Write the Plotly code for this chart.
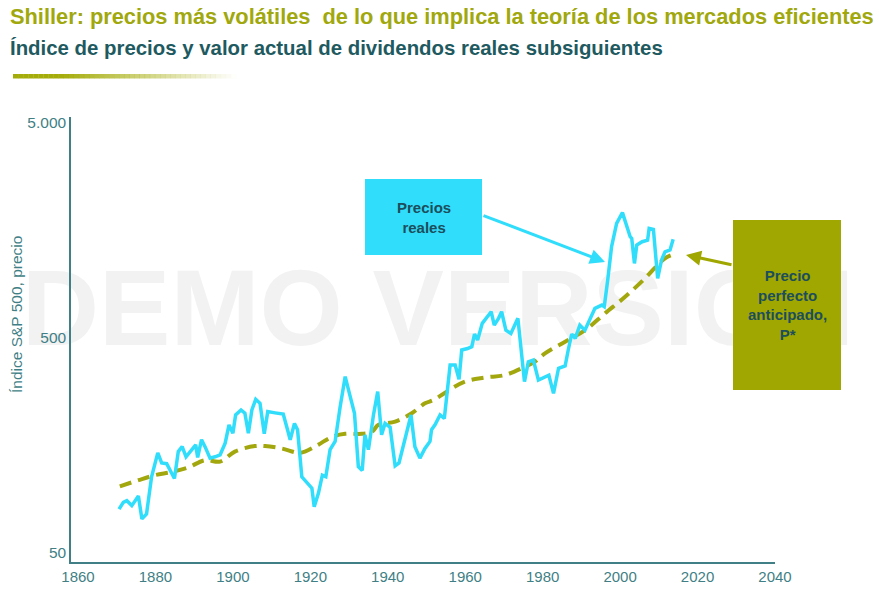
import plotly.graph_objects as go

# ---------------- data ----------------
real_years = [1870.6, 1871.7, 1872.6, 1873.9, 1875.6, 1876.5, 1877.7, 1879.0, 1880.6, 1881.6,
              1882.9, 1883.8, 1884.9, 1885.9, 1886.9, 1887.9, 1889.4, 1890.4, 1890.9, 1891.9,
              1892.8, 1894.1, 1895.4, 1896.7, 1898.0, 1899.0, 1900.0, 1900.7, 1902.1, 1903.1,
              1904.0, 1904.9, 1905.9, 1907.0, 1908.1, 1909.0, 1910.9, 1913.0, 1913.9, 1914.8,
              1915.9, 1916.7, 1917.8, 1919.1, 1920.4, 1921.0, 1922.1, 1923.1, 1924.0, 1925.1,
              1926.4, 1927.7, 1929.0, 1930.2, 1931.4, 1932.4, 1933.4, 1934.1, 1935.0, 1936.3,
              1937.4, 1938.4, 1939.3, 1940.6, 1941.9, 1942.9, 1944.5, 1946.0, 1947.0, 1948.3,
              1949.6, 1950.9, 1951.3, 1952.2, 1953.5, 1954.6, 1956.1, 1957.4, 1958.4, 1959.1,
              1960.6, 1961.7, 1962.4, 1963.2, 1964.4, 1965.6, 1966.7, 1967.5, 1968.6, 1969.4,
              1970.5, 1971.8, 1973.6, 1975.3, 1976.3, 1977.6, 1978.9, 1981.6, 1982.8, 1984.1,
              1985.8, 1986.6, 1987.5, 1988.4, 1989.6, 1990.9, 1992.2, 1993.5, 1995.3, 1995.9,
              1996.8, 1997.8, 1999.1, 2000.6, 2002.6, 2003.0, 2003.7, 2004.3, 2005.7, 2007.1,
              2007.5, 2008.6, 2009.7, 2010.7, 2011.6, 2012.9, 2013.7]
real_prices = [80, 86, 87.5, 83, 92, 72, 76, 113, 146, 131,
               130, 122, 111, 148, 156, 140, 151, 159, 139, 168,
               156, 138, 140, 143, 162, 197, 180, 219, 231, 223,
               180, 231, 259, 248, 179, 227, 224, 221, 193, 168,
               200, 187, 113, 107, 100, 82, 95, 115, 113, 151,
               165, 239, 330, 271, 223, 126, 121, 177, 151, 219,
               281, 177, 200, 192, 127, 131, 168, 219, 156, 138,
               153, 165, 187, 197, 219, 211, 374, 374, 321, 439,
               446, 455, 521, 489, 584, 627, 661, 573, 616, 661,
               543, 524, 616, 313, 387, 394, 318, 335, 276, 361,
               370, 439, 521, 497, 573, 543, 616, 686, 710, 698,
               929, 1327, 1702, 1910, 1476, 1449, 1109, 1350, 1399, 1422,
               1612, 1596, 944, 1151, 1256, 1280, 1435]

pstar_years = [1870.8, 1875.6, 1879.9, 1884.2, 1888.5, 1892.8, 1896.7, 1900.5, 1905.7, 1908.3,
               1912.6, 1916.9, 1918.6, 1922.0, 1925.5, 1929.0, 1933.3, 1935.9, 1937.6, 1941.9,
               1946.2, 1949.6, 1951.8, 1954.8, 1959.9, 1965.1, 1970.3, 1975.4, 1978.0, 1980.6,
               1985.8, 1991.0, 1996.1, 2001.3, 2006.4, 2011.6, 2014.7]
pstar_values = [102, 109, 115, 119, 125, 135, 133, 148, 157, 157,
                153, 146, 148, 159, 173, 179, 179, 183, 197, 204,
                223, 248, 257, 278, 313, 327, 336, 367, 387, 423,
                480, 543, 650, 776, 944, 1172, 1236]

x_ticks = [1860, 1880, 1900, 1920, 1940, 1960, 1980, 2000, 2020, 2040]
y_ticks = [50, 500, 5000]
y_ticktext = ["50", "500", "5.000"]

title_text = "Shiller: precios más volátiles&nbsp; de lo que implica la teoría de los mercados eficientes"
subtitle_text = "Índice de precios y valor actual de dividendos reales subsiguientes"
y_title = "Índice S&P 500, precio"
label_real = "Precios<br>reales"
label_pstar = "Precio<br>perfecto<br>anticipado,<br>P*"

# ---------------- styling ----------------
W, H = 879, 592
L, R, T, B = 71, 775, 117, 562
PW, PH = R - L, B - T

def px(p):
    return (p - L) / PW

def py(p):
    return (B - p) / PH

CYAN = "#30DDFB"
OLIVE = "#A0A700"
TEAL = "#3F7F85"
DARK = "#1C4E5C"
FONT = "Liberation Sans, Arial, sans-serif"

fig = go.Figure()
fig.add_trace(go.Scatter(x=pstar_years, y=pstar_values, mode="lines",
                         line=dict(color="#A3A70E", width=4, dash="12px,7px", shape="spline"),
                         hoverinfo="skip", showlegend=False))
fig.add_trace(go.Scatter(x=real_years, y=real_prices, mode="lines",
                         line=dict(color=CYAN, width=3.5),
                         hoverinfo="skip", showlegend=False))

shapes = []
# watermark behind everything
shapes.append(dict(type="rect", xref="paper", yref="paper", layer="below",
                   x0=px(10), x1=px(866), y0=py(350), y1=py(245),
                   line=dict(width=0), fillcolor="rgba(0,0,0,0)",
                   label=dict(text="DEMO VERSION", textposition="middle center",
                              font=dict(family=FONT, size=107, color="#F2F2F2", weight="bold"))))
# boxes
shapes.append(dict(type="rect", xref="paper", yref="paper", layer="above",
                   x0=px(365), x1=px(482), y0=py(255), y1=py(179),
                   line=dict(width=0), fillcolor=CYAN))
shapes.append(dict(type="rect", xref="paper", yref="paper", layer="above",
                   x0=px(733), x1=px(841), y0=py(390), y1=py(220),
                   line=dict(width=0), fillcolor=OLIVE))
# gradient bar under the title
n = 44
x_start, x_end, y0b, y1b = 13, 236, 74, 78.5
step = (x_end - x_start) / n
for i in range(n):
    a = x_start + i * step
    mid = a + step / 2
    op = 1.0 if mid < 60 else max(0.0, 1 - (mid - 60) / (x_end - 60))
    shapes.append(dict(type="rect", xref="paper", yref="paper", layer="above",
                       x0=px(a), x1=px(a + step + 0.3), y0=py(y1b), y1=py(y0b),
                       line=dict(width=0), fillcolor="#A4AC0A", opacity=op))

annotations = [
    dict(text=title_text, xref="paper", yref="paper", x=px(8), y=py(17),
         xanchor="left", yanchor="middle", showarrow=False,
         font=dict(family=FONT, size=21.8, color="#A0A80E", weight="bold")),
    dict(text=subtitle_text, xref="paper", yref="paper", x=px(8), y=py(48),
         xanchor="left", yanchor="middle", showarrow=False,
         font=dict(family=FONT, size=20.4, color="#1E5A60", weight="bold")),
    dict(text=y_title, xref="paper", yref="paper", x=px(16), y=py(315),
         xanchor="center", yanchor="middle", showarrow=False, textangle=-90,
         font=dict(family=FONT, size=15.5, color=TEAL)),
    dict(text=label_real, xref="paper", yref="paper", x=px(423.5), y=py(217.5),
         xanchor="center", yanchor="middle", showarrow=False,
         font=dict(family=FONT, size=15, color=DARK, weight="bold")),
    dict(text=label_pstar, xref="paper", yref="paper", x=px(787), y=py(305),
         xanchor="center", yanchor="middle", showarrow=False,
         font=dict(family=FONT, size=15, color=DARK, weight="bold")),
    # arrows
    dict(text="", xref="paper", yref="paper", x=px(605), y=py(262),
         ax=482 - 605, ay=215 - 262, axref="pixel", ayref="pixel",
         showarrow=True, arrowhead=2, arrowsize=1, arrowwidth=3, arrowcolor=CYAN),
    dict(text="", xref="paper", yref="paper", x=px(686), y=py(255),
         ax=733 - 686, ay=265 - 255, axref="pixel", ayref="pixel",
         showarrow=True, arrowhead=2, arrowsize=1, arrowwidth=3, arrowcolor=OLIVE),
]

fig.update_layout(
    width=W, height=H, autosize=False,
    margin=dict(l=L, r=W - R, t=T, b=H - B, pad=0),
    paper_bgcolor="white", plot_bgcolor="white",
    showlegend=False,
    shapes=shapes, annotations=annotations,
    font=dict(family=FONT, color=TEAL),
)
fig.update_xaxes(range=[1858.19, 2040.0], tickvals=x_ticks, showgrid=False, zeroline=False,
                 showline=True, linecolor=TEAL, linewidth=1.5, ticks="", automargin=False,
                 tickfont=dict(family=FONT, size=15, color=TEAL))
fig.update_yaxes(type="log", range=[1.657, 3.7255], tickvals=y_ticks, ticktext=y_ticktext,
                 showgrid=False, zeroline=False, showline=True, linecolor=TEAL, linewidth=1.5,
                 ticks="", automargin=False, tickfont=dict(family=FONT, size=15.5, color=TEAL))

fig.write_html("out.html", config={"displayModeBar": False},
               post_script="document.body.style.margin='0';")
